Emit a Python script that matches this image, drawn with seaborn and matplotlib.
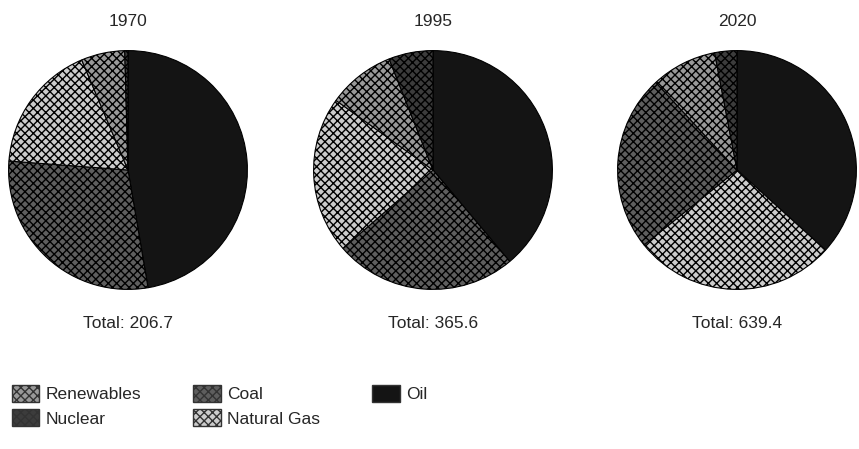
import numpy as np
import pandas as pd
import seaborn as sns
import matplotlib.pyplot as plt
from matplotlib.patches import Patch

sns.set_theme(style="white")
plt.rcParams['font.family'] = ['Liberation Sans Narrow', 'Liberation Sans', 'DejaVu Sans']

# Energy consumption by fuel (quadrillion Btu)
years = ['1970', '1995', '2020']
fuels = ['Oil', 'Coal', 'Natural Gas', 'Renewables', 'Nuclear']
oil = [97.8, 142.2, 234.7]
coal = [59.7, 90.3, 152.8]
gas = [36.1, 77.9, 175.8]
renewables = [12.2, 33.3, 56.9]
nuclear = [0.9, 21.9, 19.2]
totals = [206.7, 365.6, 639.4]

df = pd.DataFrame({'Oil': oil, 'Coal': coal, 'Natural Gas': gas,
                   'Renewables': renewables, 'Nuclear': nuclear}, index=years)

# grayscale tones standing in for the halftone textures
colors = {'Oil': '#141414', 'Nuclear': '#3c3c3c', 'Coal': '#5e5e5e',
          'Renewables': '#999999', 'Natural Gas': '#cccccc'}
hatches = {'Oil': '', 'Nuclear': 'xxxx', 'Coal': 'xxxx',
           'Renewables': 'xxxx', 'Natural Gas': 'xxxx'}

W, H = 859, 449
fig = plt.figure(figsize=(W / 100, H / 100), dpi=100)

centers_x = [128, 433, 737]
cy, r = 170, 120
fs = 12.5

for i, yr in enumerate(years):
    ax = fig.add_axes([(centers_x[i] - r) / W, (H - cy - r) / H, 2 * r / W, 2 * r / H])
    # slices drawn largest first, clockwise from 12 o'clock
    s = df.loc[yr].sort_values(ascending=False)
    wedges, _ = ax.pie(s.values, colors=[colors[f] for f in s.index],
                       startangle=90, counterclock=False,
                       wedgeprops=dict(edgecolor='black', linewidth=0.8))
    for w, f in zip(wedges, s.index):
        w.set_hatch(hatches[f])
    ax.set_xlim(-1.005, 1.005)
    ax.set_ylim(-1.005, 1.005)
    ax.set_aspect('equal')
    ax.axis('off')
    fig.text(centers_x[i] / W, 1 - 21 / H, yr, ha='center', va='center', fontsize=fs)
    fig.text(centers_x[i] / W, 1 - 324 / H, f'Total: {totals[i]}', ha='center',
             va='center', fontsize=fs)

order = ['Renewables', 'Nuclear', 'Coal', 'Natural Gas', 'Oil']
handles = [Patch(facecolor=colors[f], edgecolor='#333333', hatch=hatches[f], label=f)
           for f in order]
fig.legend(handles=handles, ncol=3, loc='upper left',
           bbox_to_anchor=(-4 / W, 1 - 369 / H),
           frameon=False, fontsize=fs, columnspacing=3.0, handlelength=1.6,
           handleheight=1.15, handletextpad=0.35, labelspacing=0.4)

fig.savefig('out.png', dpi=100)
